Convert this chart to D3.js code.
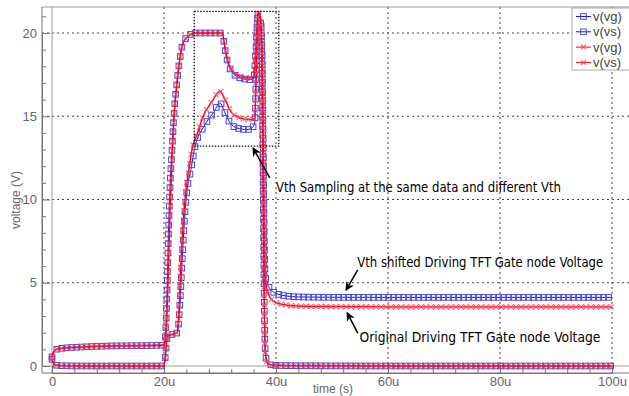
<!DOCTYPE html>
<html>
<head>
<meta charset="utf-8">
<script src="https://cdn.jsdelivr.net/npm/d3@7"></script>
<style>
  body { margin: 0; background: #fff; }
  svg { display: block; }
</style>
</head>
<body>
<svg id="chart"></svg>
<script>
const width = 629;
const height = 396;

// time in microseconds, voltage in volts
const tVg = [0, 0.3, 0.8, 1.5, 3, 6, 10, 15, 19.8, 20.2, 20.5, 20.8, 21.1, 21.4, 21.8, 22.3, 22.9, 23.4, 24.3, 25.5,
  28, 30.4, 30.9, 31.4, 32.3, 33.6, 35.4, 36.0, 36.4, 36.8, 37.2, 37.5, 37.7, 37.9, 38.1, 38.4, 38.8, 39.5, 40.5,
  42, 44, 48, 60, 80, 100];
const vgBlue = [0.55, 0.85, 1.0, 1.05, 1.1, 1.15, 1.2, 1.22, 1.25, 1.6, 4, 8, 11, 12.8, 15.2, 17.0, 18.6, 19.4, 19.8, 20.0,
  20.0, 20.0, 19.0, 18.2, 17.6, 17.3, 17.2, 17.25, 19.0, 21.2, 21.0, 19, 14, 8, 5.4, 5.0, 4.7, 4.45, 4.3,
  4.2, 4.15, 4.13, 4.12, 4.12, 4.12];
const vgRed = [0.55, 0.85, 1.0, 1.05, 1.1, 1.15, 1.2, 1.22, 1.25, 1.4, 2.8, 6, 9.5, 12.2, 15.0, 16.9, 18.6, 19.4, 19.8, 20.0,
  20.0, 20.0, 19.1, 18.3, 17.7, 17.4, 17.3, 17.35, 19.0, 21.2, 21.0, 19, 14, 8, 5.0, 4.6, 4.2, 3.9, 3.75,
  3.65, 3.6, 3.57, 3.55, 3.55, 3.55];

const tVsBlue = [0, 0.3, 0.8, 1.5, 5, 10, 15, 20.0, 20.3, 20.6, 21.5, 22.4, 22.8, 23.2, 23.6, 24.1, 24.8, 25.7,
  26.8, 27.9, 28.8, 30.0, 30.9, 31.8, 33.0, 34.8, 35.7, 36.2, 36.5, 36.8, 37.2, 37.5, 37.7, 37.9, 38.1, 38.5, 39.5, 42,
  60, 80, 100];
const vsBlue = [0.4, 0.15, 0.05, 0.02, 0, 0, 0, 0, 0.8, 1.8, 1.9, 2.0, 3.5, 6, 8.5, 10.5, 11.8, 13.4,
  14.2, 14.8, 15.2, 15.8, 15.2, 14.6, 14.3, 14.2, 14.3, 14.6, 18, 21.2, 20.8, 18, 11, 4, 0.8, 0.15, 0.05, 0.02,
  0, 0, 0];

const tVsRed = [0, 0.3, 0.8, 1.5, 5, 10, 15, 20.0, 20.3, 20.6, 21.5, 22.3, 22.7, 23.0, 23.4, 23.9, 24.5, 25.0,
  25.9, 27.0, 28.6, 30.0, 30.9, 32.1, 33.6, 35.4, 36.2, 36.5, 36.8, 37.2, 37.5, 37.7, 37.9, 38.1, 38.5, 39.5, 42,
  60, 80, 100];
const vsRed = [0.4, 0.15, 0.05, 0.02, 0, 0, 0, 0, 0.8, 1.8, 1.9, 2.0, 3.5, 6, 8.5, 10.5, 11.9, 13.0,
  13.9, 15.0, 15.9, 16.5, 16.0, 15.2, 14.9, 14.8, 14.85, 18, 21.2, 20.8, 18, 11, 4, 0.8, 0.15, 0.05, 0.02,
  0, 0, 0];

const legendLabels = ["v(vg)", "v(vs)", "v(vg)", "v(vs)"];
const xTicks = [0, 20, 40, 60, 80, 100];
const yTicks = [0, 5, 10, 15, 20];

// annotations, in data units
const boxT = [25.4, 40.5];
const boxV = [13.2, 21.3];
const notes = [
  { text: "Vth Sampling at the same data and different Vth", t: 40.0, v: 10.45, len: 285, from: [38.9, 11.3], to: [35.9, 13.1] },
  { text: "Vth shifted Driving TFT Gate node Voltage", t: 54.5, v: 5.95, len: 246, from: [54.6, 5.77], to: [52.5, 4.55] },
  { text: "Original Driving TFT Gate node Voltage", t: 54.9, v: 1.45, len: 241, from: [54.6, 1.98], to: [52.7, 3.2] }
];

const svg = d3.select("#chart").attr("width", width).attr("height", height);

const x = d3.scaleLinear().domain([0, 100]).range([52, 612]);
const y = d3.scaleLinear().domain([0, 20]).range([366, 33]);

const frameLeft = 42, frameTop = 7, frameBottom = 373, frameRight = 640;

// grid
const grid = svg.append("g");
grid.selectAll(".gx").data(xTicks.slice(1)).enter().append("line")
  .attr("x1", d => x(d)).attr("x2", d => x(d))
  .attr("y1", frameTop).attr("y2", frameBottom)
  .attr("stroke", "#444").attr("stroke-dasharray", "2,3");
grid.selectAll(".gy").data(yTicks.slice(1)).enter().append("line")
  .attr("x1", frameLeft).attr("x2", frameRight)
  .attr("y1", d => y(d)).attr("y2", d => y(d))
  .attr("stroke", "#444").attr("stroke-dasharray", "2,3");

// zero lines
grid.append("line").attr("x1", x(0)).attr("x2", x(0)).attr("y1", frameTop).attr("y2", frameBottom)
  .attr("stroke", "#9a9a9a");
grid.append("line").attr("x1", frameLeft).attr("x2", frameRight).attr("y1", y(0)).attr("y2", y(0))
  .attr("stroke", "#9a9a9a");

// frame
svg.append("line").attr("x1", frameLeft).attr("x2", frameRight).attr("y1", frameTop).attr("y2", frameTop)
  .attr("stroke", "#999");

// axes
const yAxis = svg.append("g").attr("transform", `translate(${frameLeft},0)`)
  .call(d3.axisLeft(y).tickValues(yTicks).tickSize(-8).tickPadding(5));
svg.append("g").attr("transform", `translate(${frameLeft},0)`)
  .call(d3.axisLeft(y).tickValues(d3.range(1, 22).filter(d => d % 5)).tickSize(-4).tickFormat(""));
const xAxis = svg.append("g").attr("transform", `translate(0,${frameBottom})`)
  .call(d3.axisBottom(x).tickValues(xTicks).tickSize(-8).tickPadding(4)
    .tickFormat(d => d === 0 ? "0" : d + "u"));
svg.append("g").attr("transform", `translate(0,${frameBottom})`)
  .call(d3.axisBottom(x).tickValues(d3.range(4, 104, 4).filter(d => d % 20)).tickSize(-4).tickFormat(""));

svg.selectAll(".domain").attr("stroke", "#777");
svg.selectAll(".tick line").attr("stroke", "#777");
svg.selectAll(".tick text").attr("fill", "#666").style("font-family", "Liberation Sans, Arial, sans-serif")
  .style("font-size", "13px");
// domain paths cover the plot edges only
yAxis.select(".domain").attr("d", `M0,${frameTop}V${frameBottom}`);
xAxis.select(".domain").attr("d", `M${frameLeft},0H${frameRight}`);

svg.append("text").attr("transform", `translate(20,200) rotate(-90)`)
  .attr("text-anchor", "middle").attr("fill", "#666")
  .style("font-family", "Liberation Sans, Arial, sans-serif").style("font-size", "12px")
  .text("voltage (V)");
svg.append("text").attr("x", 333).attr("y", 393)
  .attr("text-anchor", "middle").attr("fill", "#666")
  .style("font-family", "Liberation Sans, Arial, sans-serif").style("font-size", "12px")
  .text("time (s)");

// series
const line = d3.line().x(d => x(d[0])).y(d => y(d[1])).curve(d3.curveMonotoneX);

const series = [
  { t: tVg, v: vgBlue, color: "#1010ff", mark: "#4848dd", kind: "square", w: 1 },
  { t: tVsBlue, v: vsBlue, color: "#1010ff", mark: "#4848dd", kind: "square", w: 1 },
  { t: tVg, v: vgRed, color: "#ff0000", mark: "#ff4060", kind: "cross", w: 1.4 },
  { t: tVsRed, v: vsRed, color: "#ff0000", mark: "#ff4060", kind: "cross", w: 1.4 }
];

function drawMarker(g, px, py, s) {
  if (s.kind === "square") {
    g.append("rect").attr("x", px - 2.8).attr("y", py - 2.8).attr("width", 5.6).attr("height", 5.6)
      .attr("fill", "none").attr("stroke", s.mark).attr("stroke-width", 1);
  } else {
    g.append("path").attr("d", `M${px - 2.6},${py - 2.6}L${px + 2.6},${py + 2.6}M${px - 2.6},${py + 2.6}L${px + 2.6},${py - 2.6}`)
      .attr("stroke", s.mark).attr("stroke-width", 1.1).attr("opacity", 0.8);
  }
}

series.forEach(s => {
  const pts = s.t.map((t, i) => [t, s.v[i]]);
  const g = svg.append("g");
  const p = g.append("path").datum(pts).attr("d", line)
    .attr("fill", "none").attr("stroke", s.color).attr("stroke-width", s.w);
  // markers spaced along the drawn trace
  const node = p.node();
  const L = node.getTotalLength();
  let last = node.getPointAtLength(0);
  drawMarker(g, last.x, last.y, s);
  for (let l = 0.5; l <= L; l += 0.5) {
    const q = node.getPointAtLength(l);
    const dx = Math.abs(q.x - last.x), dd = Math.hypot(q.x - last.x, q.y - last.y);
    if (dx >= 4.6 || dd >= 9) {
      drawMarker(g, q.x, q.y, s);
      last = q;
    }
  }
});

// annotation box and arrows
svg.append("rect")
  .attr("x", x(boxT[0])).attr("y", y(boxV[1]))
  .attr("width", x(boxT[1]) - x(boxT[0])).attr("height", y(boxV[0]) - y(boxV[1]))
  .attr("fill", "none").attr("stroke", "#111").attr("stroke-width", 1.3).attr("stroke-dasharray", "1.5,1.5");

svg.append("defs").append("marker").attr("id", "head")
  .attr("viewBox", "0 0 10 10").attr("refX", 9).attr("refY", 5)
  .attr("markerWidth", 9).attr("markerHeight", 9).attr("markerUnits", "userSpaceOnUse")
  .attr("orient", "auto")
  .append("path").attr("d", "M0,0L10,5L0,10L3,5Z").attr("fill", "#000");

notes.forEach(n => {
  svg.append("line")
    .attr("x1", x(n.from[0])).attr("y1", y(n.from[1]))
    .attr("x2", x(n.to[0])).attr("y2", y(n.to[1]))
    .attr("stroke", "#000").attr("stroke-width", 1.5).attr("marker-end", "url(#head)");
  svg.append("text").attr("x", x(n.t)).attr("y", y(n.v))
    .attr("fill", "#000")
    .attr("textLength", n.len).attr("lengthAdjust", "spacingAndGlyphs")
    .style("font-family", "DejaVu Sans Condensed, sans-serif").style("font-size", "14px")
    .text(n.text);
});

// legend
const leg = svg.append("g").attr("transform", "translate(572,8)");
leg.append("rect").attr("width", 70).attr("height", 62)
  .attr("fill", "#fff").attr("stroke", "#aaa");
legendLabels.forEach((lab, i) => {
  const s = series[i];
  const gy = 8.5 + i * 15.3;
  const g = leg.append("g");
  g.append("line").attr("x1", 4).attr("x2", 19).attr("y1", gy).attr("y2", gy)
    .attr("stroke", s.color).attr("stroke-width", 1);
  drawMarker(g, 11.5, gy, s);
  g.append("text").attr("x", 21).attr("y", gy + 4.5).attr("fill", "#444")
    .style("font-family", "Liberation Sans, Arial, sans-serif").style("font-size", "13px")
    .text(lab);
});
</script>
</body>
</html>
